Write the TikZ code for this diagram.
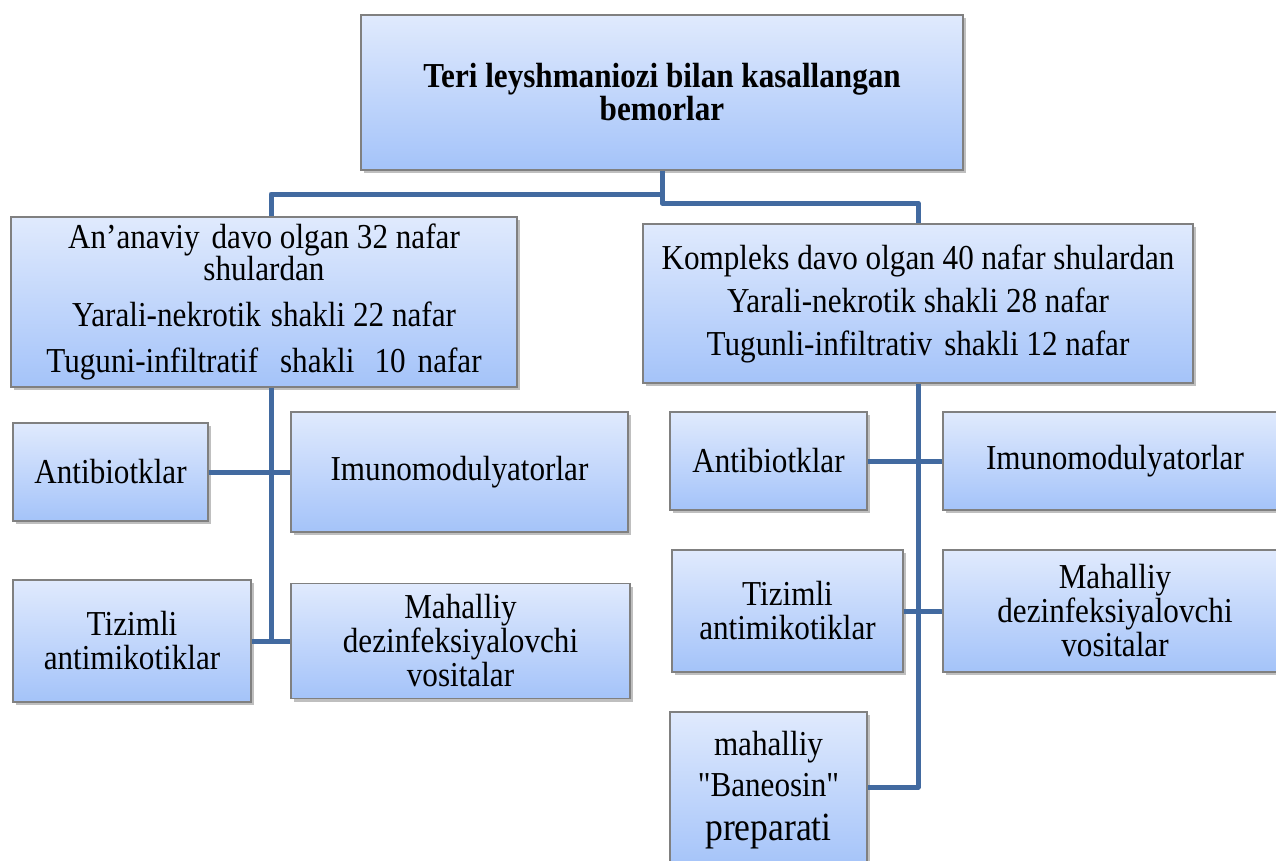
\documentclass[tikz,border=0pt]{standalone}
\usepackage{fontspec}
\setmainfont{Liberation Serif}[Ligatures=TeXOff, FakeStretch=0.89]
\usetikzlibrary{shadows}

\definecolor{boxtop}{RGB}{224,234,253}
\definecolor{boxbottom}{RGB}{164,195,249}
\definecolor{boxline}{RGB}{128,128,128}
\definecolor{linkblue}{RGB}{66,106,160}

\begin{document}
\begin{tikzpicture}[x=1pt, y=-1pt,
    box/.style={rectangle, draw=boxline, line width=1.5pt, top color=boxtop, bottom color=boxbottom,
      align=center, inner sep=2pt, font=\fontsize{35}{34}\selectfont,
      drop shadow={shadow xshift=3pt, shadow yshift=-3pt, opacity=0.25, fill=black}},
    link/.style={draw=linkblue, line width=5pt, line join=round}
  ]
  \useasboundingbox (0,0) rectangle (1276,860);

  % Root
  \node[box, font=\bfseries\fontsize{35}{32}\selectfont, minimum width=602pt, minimum height=155pt]
    (root) at (662,92.5) {Teri leyshmaniozi bilan kasallangan\\bemorlar};

  % Two groups
  \node[box, minimum width=506pt, minimum height=170pt] (left) at (264,302)
    {An’anaviy\hspace{12pt}davo olgan 32 nafar\\[-2pt]shulardan\\[12pt]Yarali-nekrotik\hspace{10pt}shakli 22 nafar\\[12pt]Tuguni-infiltratif\hspace{22pt}shakli\hspace{20pt}10\hspace{12pt}nafar};
  \node[box, minimum width=550pt, minimum height=159pt] (right) at (918,303.5)
    {Kompleks davo olgan 40 nafar shulardan\\[9pt]Yarali-nekrotik shakli 28 nafar\\[9pt]Tugunli-infiltrativ\hspace{12pt}shakli 12 nafar};

  % Left group treatments
  \node[box, minimum width=195pt, minimum height=98pt] (lanti) at (110.5,472) {Antibiotklar};
  \node[box, minimum width=337pt, minimum height=120pt] (limmu) at (459.5,472) {Imunomodulyatorlar};
  \node[box, minimum width=238pt, minimum height=122pt] (ltiz) at (132,641) {Tizimli\\antimikotiklar};
  \node[box, minimum width=339pt, minimum height=115pt] (lmah) at (460.5,641) {Mahalliy\\dezinfeksiyalovchi\\vositalar};

  % Right group treatments
  \node[box, minimum width=197pt, minimum height=98pt] (ranti) at (768.5,461) {Antibiotklar};
  \node[box, minimum width=344pt, minimum height=98pt] (rimmu) at (1115,461) {Imunomodulyatorlar};
  \node[box, minimum width=231pt, minimum height=122pt] (rtiz) at (787.5,611) {Tizimli\\antimikotiklar};
  \node[box, minimum width=344pt, minimum height=122pt] (rmah) at (1115,611) {Mahalliy\\dezinfeksiyalovchi\\vositalar};
  \node[box, font=\fontsize{35}{41}\selectfont, minimum width=197pt, minimum height=156pt] (rbane) at (768.5,790)
    {mahalliy\\"Baneosin"\\[3pt]{\fontsize{40}{41}\selectfont preparati}};

  % Connectors
  \coordinate (split) at (662,194);
  \coordinate (splitdown) at (662,203);
  \coordinate (lefttrunk) at (271,0);
  \coordinate (leftend) at (271,642);
  \coordinate (rightend) at (918,787);

  \draw[link] (root.south) -- (split) -| (left.north -| lefttrunk);
  \draw[link] (split) -- (splitdown) -| (right.north);
  \draw[link] (left.south -| leftend) -- (leftend);
  \draw[link] (lanti.east) -- (limmu.west);
  \draw[link] (ltiz.east) -- (lmah.west);
  \draw[link] (right.south) -- (rightend) -- (rbane.east |- rightend);
  \draw[link] (ranti.east) -- (rimmu.west);
  \draw[link] (rtiz.east) -- (rmah.west);
\end{tikzpicture}
\end{document}
